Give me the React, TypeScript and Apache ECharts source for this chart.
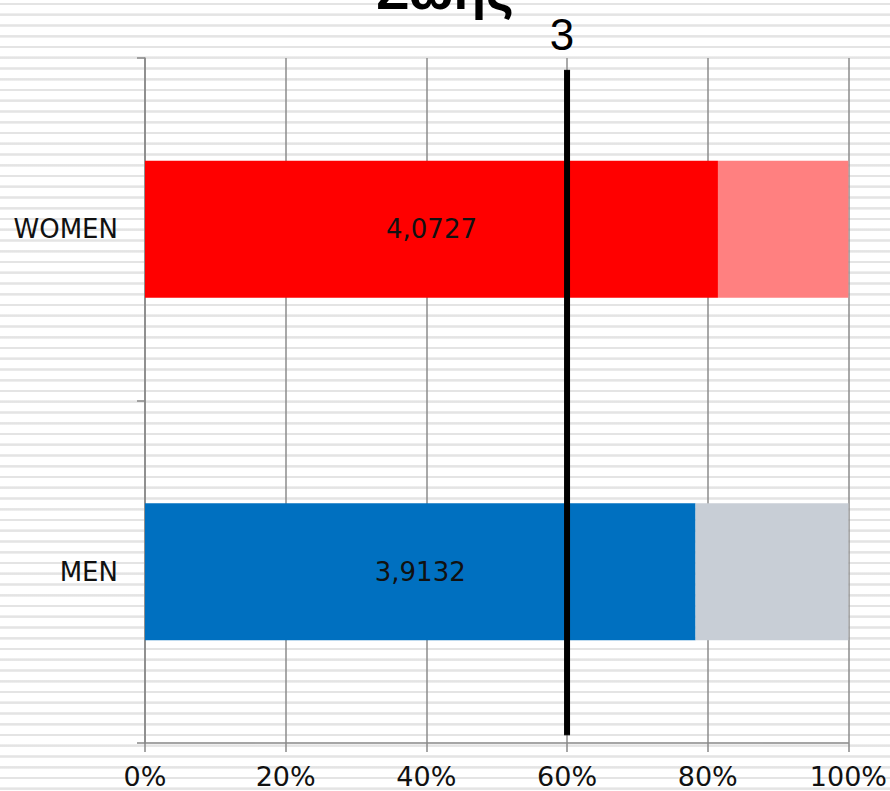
import React, { useEffect, useRef } from "react";
import * as echarts from "echarts";

const categories = ["MEN", "WOMEN"];
const scores = [3.9132, 4.0727];
const maxScore = 5;
const threshold = 3;
const xTicks = [0, 20, 40, 60, 80, 100];
const titleText = "Ζωής";
const lineExtent = [0.012, 0.982];

const mainColors = ["#0070C0", "#FF0000"];
const restColors = ["#C8CED6", "#FF8080"];

export default function App() {
  const ref = useRef<HTMLDivElement>(null);
  useEffect(() => {
    if (!ref.current) return;
    const chart = echarts.init(ref.current, undefined, { renderer: "svg" });
    const pct = scores.map((v) => (v / maxScore) * 100);
    const rest = pct.map((p) => 100 - p);
    const thrPct = (threshold / maxScore) * 100;
    const font = "DejaVu Sans";
    chart.setOption({
      animation: false,
      backgroundColor: "transparent",
      title: {
        text: titleText,
        left: "center",
        top: -41,
        textStyle: { fontSize: 53, fontWeight: 900, fontFamily: "Liberation Sans", color: "#000" },
      },
      grid: { left: 145, right: 41, top: 58, bottom: 48 },
      xAxis: {
        type: "value",
        min: xTicks[0],
        max: xTicks[xTicks.length - 1],
        interval: 20,
        axisLine: { show: true, lineStyle: { color: "#888888", width: 1.5 } },
        axisTick: { show: true, length: 9, lineStyle: { color: "#888888", width: 1.5 } },
        splitLine: { show: true, lineStyle: { color: "#8c8c8c", width: 1.5 } },
        axisLabel: {
          formatter: "{value}%",
          fontFamily: font,
          fontSize: 27,
          color: "#111",
          margin: 20,
        },
      },
      yAxis: [
        {
          type: "category",
          data: categories,
          axisLine: { show: true, lineStyle: { color: "#888888", width: 1.5 } },
          axisTick: { show: true, length: 8, lineStyle: { color: "#888888", width: 1.5 } },
          axisLabel: { fontFamily: font, fontSize: 26, color: "#111", margin: 27 },
          splitLine: { show: false },
        },
        {
          type: "value",
          min: 0,
          max: 1,
          show: false,
        },
      ],
      series: [
        {
          type: "bar",
          stack: "total",
          barCategoryGap: "60%",
          data: pct.map((p, i) => ({ value: p, itemStyle: { color: mainColors[i] } })),
          label: {
            show: true,
            position: "inside",
            formatter: (p: any) => scores[p.dataIndex].toFixed(4).replace(".", ","),
            fontFamily: font,
            fontSize: 26,
            color: "#111",
          },
        },
        {
          type: "bar",
          stack: "total",
          barCategoryGap: "60%",
          data: rest.map((r, i) => ({ value: r, itemStyle: { color: restColors[i] } })),
        },
        {
          type: "line",
          yAxisIndex: 1,
          symbol: "rect",
          symbolSize: [6, 1],
          showSymbol: true,
          itemStyle: { color: "#000" },
          lineStyle: { color: "#000", width: 6 },
          data: [
            [thrPct, lineExtent[0]],
            {
              value: [thrPct, lineExtent[1]],
              label: {
                show: true,
                position: "top",
                formatter: String(threshold),
                fontFamily: "Liberation Sans",
                fontSize: 44,
                color: "#000",
                distance: 13,
                offset: [-5, 0],
              },
            },
          ],
          z: 5,
        },
      ],
    });
    return () => chart.dispose();
  }, []);
  return (
    <div
      style={{
        position: "fixed",
        left: 0,
        top: 0,
        width: 890,
        height: 791,
        background:
          "repeating-linear-gradient(180deg, #ffffff 0px, #ffffff 2.6px, #f0f0f0 2.6px, #e4e4e4 3.4px, #e4e4e4 4.6px, #f0f0f0 5.4px, #ffffff 5.4px, #ffffff 10.75px)",
      }}
    >
      <div ref={ref} style={{ width: 890, height: 791 }} />
    </div>
  );
}
